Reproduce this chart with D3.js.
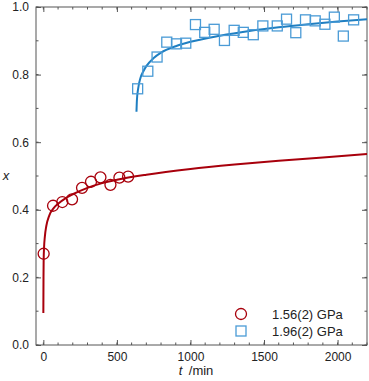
<!DOCTYPE html>
<html lang="en">
<head>
<meta charset="UTF-8">
<title>x vs t</title>
<script src="https://d3js.org/d3.v7.min.js"></script>
<style>
  body { margin: 0; background: #fff; }
  svg { font-family: "Liberation Sans", Arial, sans-serif; }
  .tick text { font-size: 12px; fill: #222; }
</style>
</head>
<body>
<svg></svg>
<script>
const [width, height] = [369, 381]
const margin = {left: 36, right: 2, top: 7, bottom: 36}

// measured points, 1.56(2) GPa
const redT = [2, 66, 129, 195, 263, 324, 388, 456, 517, 576]
const redX = [0.270, 0.412, 0.423, 0.431, 0.465, 0.483, 0.496, 0.474, 0.495, 0.498]
// fitted curve, 1.56(2) GPa
const redFitT = [0, 1, 2, 5, 10, 20, 40, 70, 100, 150, 200, 300, 400, 500, 700, 1000, 1300, 1600, 1900, 2200]
const redFitX = [0.095, 0.2, 0.25, 0.29, 0.32, 0.352, 0.383, 0.405, 0.418, 0.434, 0.446, 0.465, 0.479, 0.489, 0.504, 0.521, 0.534, 0.545, 0.555, 0.565]

// measured points, 1.96(2) GPa
const blueT = [641, 710, 773, 839, 905, 968, 1034, 1097, 1161, 1231, 1297, 1359, 1427, 1492, 1590, 1653, 1716, 1782, 1848, 1914, 1978, 2039, 2109]
const blueX = [0.758, 0.810, 0.852, 0.896, 0.891, 0.893, 0.948, 0.925, 0.934, 0.901, 0.931, 0.925, 0.918, 0.944, 0.944, 0.964, 0.924, 0.962, 0.959, 0.949, 0.970, 0.914, 0.962]
// fitted curve, 1.96(2) GPa
const blueFitT = [633, 636, 645, 660, 680, 700, 750, 800, 900, 1000, 1200, 1400, 1600, 1800, 2000, 2200]
const blueFitX = [0.69, 0.725, 0.76, 0.79, 0.81, 0.825, 0.849, 0.865, 0.884, 0.897, 0.915, 0.929, 0.94, 0.949, 0.957, 0.964]

const xTicks = [0, 500, 1000, 1500, 2000]
const yTicks = [0.0, 0.2, 0.4, 0.6, 0.8, 1.0]
const legendLabels = ['1.56(2) GPa', '1.96(2) GPa']

const red = '#a8000c', blue = '#1f7fc2', blueMark = '#4a9bd6', axisCol = '#555'

const svg = d3.select('svg').attr('width', width).attr('height', height)
const x = d3.scaleLinear().domain([-50, 2200]).range([margin.left, width - margin.right])
const y = d3.scaleLinear().domain([0, 1]).range([height - margin.bottom, margin.top])
const [x0, x1] = x.range(), [y0, y1] = y.range()

const minorX = d3.range(0, 2201, 100)
const minorY = d3.range(0, 1.01, 0.1)

// inward ticks on all four sides
const axes = [
  [d3.axisBottom(x).tickValues(xTicks).tickFormat(d3.format('d')), `translate(0,${y0})`, true],
  [d3.axisTop(x).tickValues(xTicks), `translate(0,${y1})`, false],
  [d3.axisLeft(y).tickValues(yTicks).tickFormat(d3.format('.1f')), `translate(${x0},0)`, true],
  [d3.axisRight(y).tickValues(yTicks), `translate(${x1},0)`, false]
]
axes.forEach(([ax, tr, labels]) => {
  const g = svg.append('g').attr('transform', tr)
    .call(ax.tickSizeInner(-5).tickSizeOuter(0).tickPadding(7))
  g.select('.domain').remove()
  g.selectAll('.tick line').attr('stroke', axisCol)
  if (!labels) g.selectAll('.tick text').remove()
})
const minor = svg.append('g').attr('stroke', axisCol)
minor.selectAll().data(minorX).join('path').attr('d', d => `M${x(d)} ${y0}v-2.5M${x(d)} ${y1}v2.5`)
minor.selectAll().data(minorY).join('path').attr('d', d => `M${x0} ${y(d)}h2.5M${x1} ${y(d)}h-2.5`)
svg.append('rect').attr('x', x0).attr('y', y1).attr('width', x1 - x0).attr('height', y0 - y1)
  .attr('fill', 'none').attr('stroke', axisCol).attr('stroke-width', 1)

const line = d3.line().x(d => x(d[0])).y(d => y(d[1])).curve(d3.curveMonotoneX)
svg.append('path').datum(d3.zip(redFitT, redFitX)).attr('d', line)
  .attr('fill', 'none').attr('stroke', red).attr('stroke-width', 2)
svg.append('path').datum(d3.zip(blueFitT, blueFitX)).attr('d', line)
  .attr('fill', 'none').attr('stroke', blue).attr('stroke-width', 2)

svg.append('g').selectAll().data(d3.zip(redT, redX)).join('circle')
  .attr('cx', d => x(d[0])).attr('cy', d => y(d[1])).attr('r', 5.5)
  .attr('fill', 'none').attr('stroke', red).attr('stroke-width', 1.3)
svg.append('g').selectAll().data(d3.zip(blueT, blueX)).join('rect')
  .attr('x', d => x(d[0]) - 5).attr('y', d => y(d[1]) - 5).attr('width', 10).attr('height', 10)
  .attr('fill', 'none').attr('stroke', blueMark).attr('stroke-width', 1.3)

// legend
const leg = svg.append('g').attr('font-size', 13).attr('fill', '#222')
leg.append('circle').attr('cx', 241).attr('cy', 314).attr('r', 5.5)
  .attr('fill', 'none').attr('stroke', red).attr('stroke-width', 1.3)
leg.append('rect').attr('x', 236).attr('y', 326).attr('width', 10).attr('height', 10)
  .attr('fill', 'none').attr('stroke', blueMark).attr('stroke-width', 1.3)
leg.selectAll('text').data(legendLabels).join('text')
  .attr('x', 272).attr('y', (d, i) => 318.5 + i * 17).text(d => d)

// axis titles
const xt = svg.append('text').attr('x', 196).attr('y', 375).attr('text-anchor', 'middle')
  .attr('font-size', 13).attr('fill', '#222')
xt.append('tspan').attr('font-style', 'italic').text('t')
xt.append('tspan').text('\u2002/min')
svg.append('text').attr('x', 6).attr('y', 180).attr('text-anchor', 'middle')
  .attr('font-size', 13).attr('font-style', 'italic').attr('fill', '#222').text('x')
</script>
</body>
</html>
